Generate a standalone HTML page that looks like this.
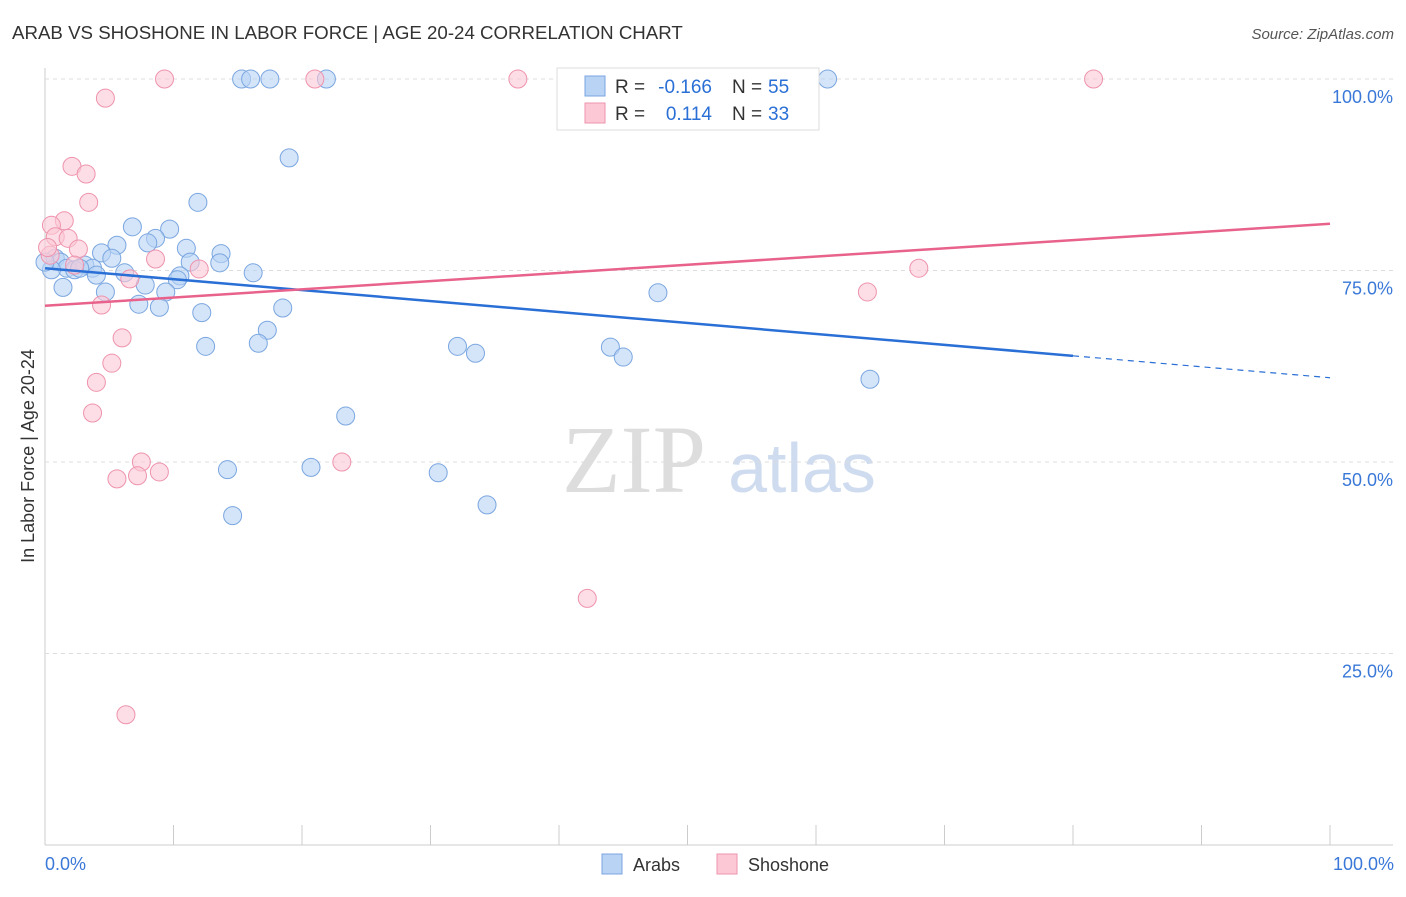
<!DOCTYPE html>
<html><head><meta charset="utf-8"><style>
body{margin:0;background:#fff;font-family:"Liberation Sans",sans-serif}
</style></head><body>
<svg id="c" width="1406" height="892" font-family="Liberation Sans, sans-serif">
<text x="12" y="39" font-size="18.7" fill="#333">ARAB VS SHOSHONE IN LABOR FORCE | AGE 20-24 CORRELATION CHART</text>
<text x="1394" y="39" font-size="15" fill="#555" font-style="italic" text-anchor="end">Source: ZipAtlas.com</text>
<text x="634" y="492" font-size="96" fill="#ddd" style="font-family:'Liberation Serif',serif" text-anchor="middle">ZIP</text>
<text x="802" y="492" font-size="70" fill="#cfdcf0" text-anchor="middle">atlas</text>
<text transform="translate(34,456) rotate(-90)" font-size="18" fill="#333" text-anchor="middle">In Labor Force | Age 20-24</text>
<g id="grid"></g><g id="pts"></g><g id="lines"></g>
<g>
<rect x="557" y="68" width="262" height="62" fill="#fff" stroke="#ddd"/>
<rect x="585" y="76" width="20" height="20" fill="#b9d3f5" stroke="#7aa6e0"/>
<rect x="585" y="103" width="20" height="20" fill="#fcc8d6" stroke="#ee93ad"/>
<text x="615" y="93" font-size="19" fill="#333">R =</text>
<text x="712" y="93" font-size="19" fill="#2a6fd6" text-anchor="end">-0.166</text>
<text x="732" y="93" font-size="19" fill="#333">N =</text>
<text x="768" y="93" font-size="19" fill="#2a6fd6">55</text>
<text x="615" y="120" font-size="19" fill="#333">R =</text>
<text x="712" y="120" font-size="19" fill="#2a6fd6" text-anchor="end">0.114</text>
<text x="732" y="120" font-size="19" fill="#333">N =</text>
<text x="768" y="120" font-size="19" fill="#2a6fd6">33</text>
</g>
<text x="45" y="870" font-size="18" fill="#3a78d8">0.0%</text>
<text x="1394" y="870" font-size="18" fill="#3a78d8" text-anchor="end">100.0%</text>
<g>
<rect x="602" y="854" width="20" height="20" fill="#b9d3f5" stroke="#7aa6e0"/>
<text x="633" y="871" font-size="18" fill="#333">Arabs</text>
<rect x="717" y="854" width="20" height="20" fill="#fcc8d6" stroke="#ee93ad"/>
<text x="748" y="871" font-size="18" fill="#333">Shoshone</text>
</g>
</svg>
<script>
const yTicks=[100,75,50,25];
const yTickLabels=["100.0%","75.0%","50.0%","25.0%"];
const arabX=[15.3,16.0,17.5,21.9,60.9,19.0,11.9,6.8,9.7,8.6,8.0,5.6,11.0,13.7,4.4,5.2,11.3,13.6,16.2,0.8,1.2,1.7,3.1,3.7,0.5,2.3,4.0,6.2,10.5,10.3,7.8,1.4,4.7,9.4,47.7,7.3,8.9,18.5,12.2,17.3,16.6,12.5,32.1,33.5,44.0,45.0,64.2,23.4,14.2,20.7,30.6,34.4,14.6,0,2.7];
const arabY=[100,100,100,100,100,89.7,83.9,80.7,80.4,79.2,78.6,78.3,77.9,77.2,77.3,76.6,76.1,76.0,74.7,76.6,76.1,75.3,75.7,75.3,75.1,75.1,74.4,74.7,74.3,73.8,73.1,72.8,72.2,72.2,72.1,70.6,70.2,70.1,69.5,67.2,65.5,65.1,65.1,64.2,65.0,63.7,60.8,56.0,49.0,49.3,48.6,44.4,43.0,76.1,75.3];
const shoX=[9.3,21.0,36.8,81.6,4.7,2.1,3.2,3.4,1.5,0.5,0.8,1.8,2.6,0.4,2.3,12.0,6.6,8.6,4.4,6.0,5.2,4.0,3.7,7.5,8.9,5.6,7.2,23.1,64.0,68.0,42.2,6.3,0.2];
const shoY=[100,100,100,100,97.5,88.6,87.6,83.9,81.5,80.9,79.4,79.2,77.8,77.0,75.7,75.2,73.9,76.5,70.5,66.2,62.9,60.4,56.4,50.0,48.7,47.8,48.2,50.0,72.2,75.3,32.2,17.0,78.0];
const arabTrend=[75.3,61.0];
const shoTrend=[70.4,81.1];
const X=v=>45+v*12.85, Y=v=>845-v*7.66;
const NS="http://www.w3.org/2000/svg";
function mk(t,a,p){const e=document.createElementNS(NS,t);for(const k in a)e.setAttribute(k,a[k]);p.appendChild(e);return e;}
const g=document.getElementById('grid');
let ax=mk('line',{x1:45,y1:68,x2:45,y2:845,stroke:'#ccc'},g);


let bx=mk('line',{x1:45,y1:845,x2:1393,y2:845,stroke:'#ccc'},g);


yTicks.forEach((t,i)=>{
 const l=mk('line',{x1:45,y1:Y(t),x2:1393,y2:Y(t),stroke:'#ddd','stroke-dasharray':'4,4'},g);
 
 
 const tx=mk('text',{x:1393,y:Y(t)+24,'font-size':18,fill:'#3a78d8','text-anchor':'end'},g);
 tx.textContent=yTickLabels[i];
 
 
});
for(let i=1;i<=10;i++){
 const l=mk('line',{x1:X(i*10),y1:825,x2:X(i*10),y2:845,stroke:'#ccc'},g);
 
 
}
const p=document.getElementById('pts');
function pts(xs,ys,fill,st,name){xs.forEach((x,i)=>{
 const c=mk('circle',{cx:X(x),cy:Y(ys[i]),r:9,fill:fill,'fill-opacity':0.6,stroke:st,'stroke-width':1},p);
 
 
});}
pts(arabX,arabY,'#b9d3f5','#7aa6e0','arab-point');
pts(shoX,shoY,'#fcc8d6','#ee93ad','shoshone-point');
const L=document.getElementById('lines');
const at=v=>arabTrend[0]+(arabTrend[1]-arabTrend[0])*v/100;
let a1=mk('line',{x1:X(0),y1:Y(at(0)),x2:X(80),y2:Y(at(80)),stroke:'#2a6fd6','stroke-width':2.5},L);


let a2=mk('line',{x1:X(80),y1:Y(at(80)),x2:X(100),y2:Y(at(100)),stroke:'#2a6fd6','stroke-width':1.2,'stroke-dasharray':'6,5'},L);


let s1=mk('line',{x1:X(0),y1:Y(shoTrend[0]),x2:X(100),y2:Y(shoTrend[1]),stroke:'#e8628c','stroke-width':2.5},L);


</script>
</body></html>
